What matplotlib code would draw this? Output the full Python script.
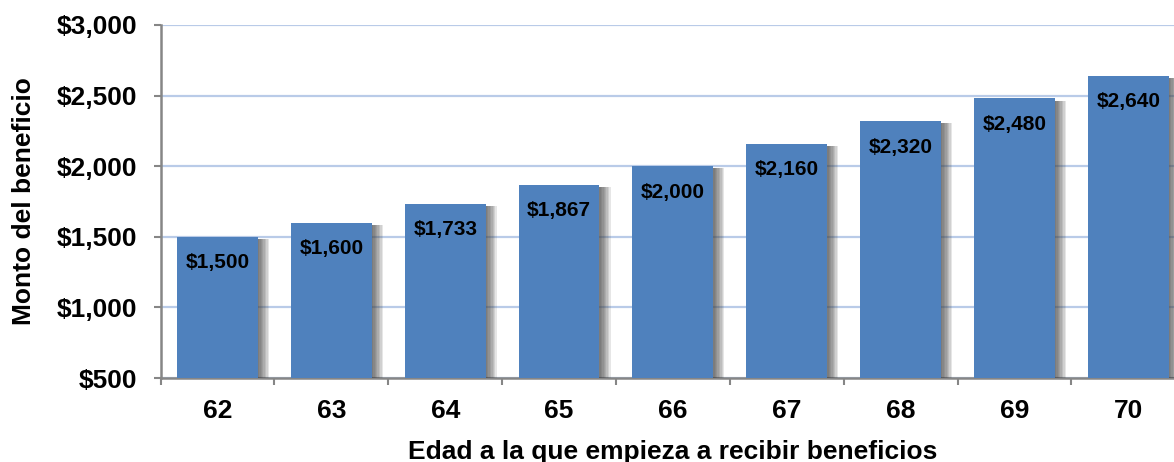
import matplotlib.pyplot as plt
import matplotlib.patheffects as pe
from matplotlib.ticker import FuncFormatter, FixedLocator

ages = ["62", "63", "64", "65", "66", "67", "68", "69", "70"]
benefits = [1500, 1600, 1733, 1867, 2000, 2160, 2320, 2480, 2640]
y_ticks = [500, 1000, 1500, 2000, 2500, 3000]

bar_color = "#4f81bd"
grid_color = "#b9cbe8"
spine_color = "#868686"

plt.rcParams["font.family"] = ["Liberation Sans", "DejaVu Sans"]

fig = plt.figure(figsize=(11.74, 4.62), dpi=100)
ax = fig.add_axes([160.6 / 1174, 84 / 462, 1024.6 / 1174, 353 / 462])

# soft drop shadow: stack of faint offset copies
shadow = [pe.SimplePatchShadow(offset=(k, -1.5), shadow_rgbFace="#404040", alpha=0.13)
          for k in range(1, 9)]

x = list(range(len(ages)))
bottom = y_ticks[0]
bars = ax.bar(x, [v - bottom for v in benefits], bottom=bottom, width=0.71,
              color=bar_color, zorder=3, path_effects=shadow + [pe.Normal()])

for xi, val in zip(x, benefits):
    ax.annotate(f"${val:,}", xy=(xi, val), xytext=(0, -26), textcoords="offset pixels",
                ha="center", va="center", fontsize=15, fontweight="bold", color="black", zorder=4)

ax.set_xlim(-0.5, len(ages) - 0.5)
ax.set_ylim(500, 3000)
ax.set_yticks(y_ticks)
ax.yaxis.set_major_formatter(FuncFormatter(lambda v, p: f"${int(v):,}"))
ax.yaxis.grid(True, color=grid_color, linewidth=1.6, zorder=0)
ax.set_axisbelow(True)

ax.set_xticks(x)
ax.set_xticklabels(ages)
ax.xaxis.set_minor_locator(FixedLocator([i - 0.5 for i in range(len(ages) + 1)]))
ax.tick_params(axis="x", which="major", length=0, pad=15, labelsize=19)
ax.tick_params(axis="x", which="minor", length=5, width=1.5, color=spine_color, direction="out")
ax.tick_params(axis="y", length=5, width=1.5, color=spine_color, direction="out", pad=11.5, labelsize=19)
for lbl in ax.get_xticklabels() + ax.get_yticklabels():
    lbl.set_fontweight("bold")

for side in ["top", "right"]:
    ax.spines[side].set_visible(False)
for side in ["left", "bottom"]:
    ax.spines[side].set_color(spine_color)
    ax.spines[side].set_linewidth(1.8)

ax.set_xlabel("Edad a la que empieza a recibir beneficios", fontsize=19, fontweight="bold", labelpad=12)
ax.set_ylabel("Monto del beneficio", fontsize=19, fontweight="bold", labelpad=15)

fig.savefig("out.png", dpi=100)
